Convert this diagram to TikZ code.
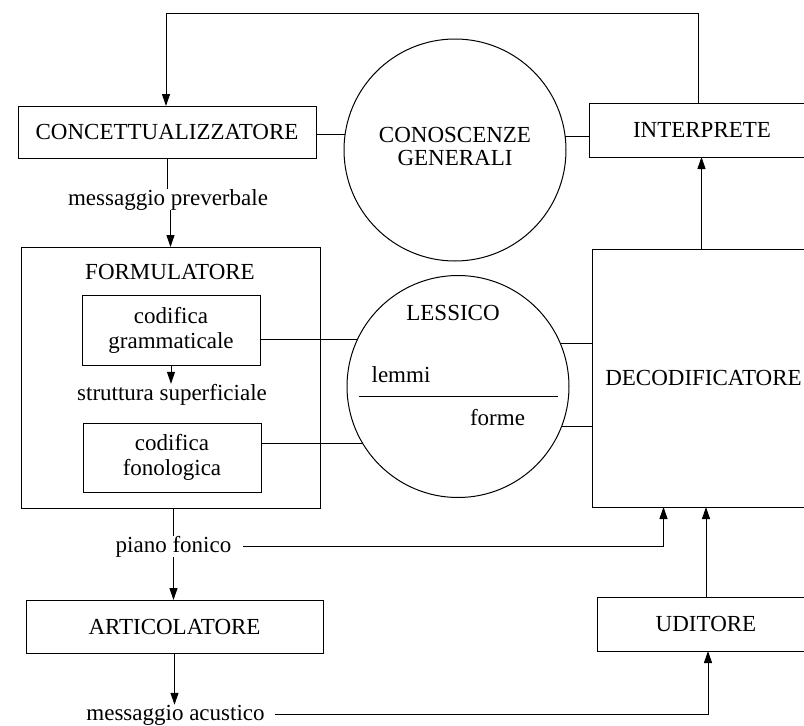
\documentclass[tikz,border=0pt]{standalone}
\usepackage{fontspec}
\setmainfont{Liberation Serif}
\usetikzlibrary{arrows.meta,calc}
\begin{document}
\begin{tikzpicture}[x=1pt,y=-1pt,
  font=\fontsize{23}{25}\selectfont,
  line width=1pt,
  box/.style={draw, inner sep=0pt, outer sep=0pt},
  round/.style={draw, circle, minimum size=222pt, inner sep=0pt, outer sep=0pt},
  lab/.style={inner sep=0pt, outer sep=0pt},
  arr/.style={-{Triangle[length=12pt,width=8pt]}},
]
\clip (0,0) rectangle (804,726);
\fill[white] (0,0) rectangle (804,726);

% nodes
\node[box, minimum width=298pt, minimum height=52pt] (conc) at (167,132) {CONCETTUALIZZATORE};
\node[round] (cg) at (455,150) {};
\node[lab, align=center, font=\fontsize{23}{23}\selectfont] (cgt) at (455,146) {CONOSCENZE\\GENERALI};
\node[box, minimum width=226pt, minimum height=54pt] (interp) at (702,130) {INTERPRETE};
\node[lab, anchor=base] (mpre) at (168,205) {messaggio preverbale};

\node[box, minimum width=299pt, minimum height=261pt] (form) at (170.5,377.5) {};
\node[lab] (formt) at (170,272) {FORMULATORE};
\node[box, minimum width=178pt, minimum height=70pt, align=center] (cgram) at (171,330) {codifica\\grammaticale};
\node[lab, anchor=base] (ss) at (172,400) {struttura superficiale};
\node[box, minimum width=178pt, minimum height=69pt, align=center] (cfon) at (172,457.5) {codifica\\fonologica};

\node[round] (lx) at (458,386.5) {};
\node[lab] (lxt) at (453,313) {LESSICO};
\node[lab, anchor=base] (lem) at (401,382) {lemmi};
\node[lab, anchor=base] (frm) at (497.5,425) {forme};
\draw ($(lx.center)+(-99,9.5)$) -- ($(lx.center)+(100,9.5)$);

\node[box, minimum width=223pt, minimum height=258pt] (decod) at (703.5,378) {DECODIFICATORE};

\node[lab, anchor=base] (pf) at (173.5,552) {piano fonico};
\node[box, minimum width=297pt, minimum height=53pt] (artic) at (174.5,626.5) {ARTICOLATORE};
\node[lab, anchor=base] (ma) at (175.5,720) {messaggio acustico};
\node[box, minimum width=218pt, minimum height=54pt] (udit) at (706,624) {UDITORE};

\coordinate (top) at (0,13);

% connectors
\draw[arr] ([xshift=-4pt]interp.north) -- ([xshift=-4pt]interp.north |- top) -| ([xshift=-1pt]conc.north);
\draw (cg.172.8 -| conc.east) -- (cg.172.8);
\draw (cg.7.2) -- (cg.7.2 -| interp.west);
\draw (conc.south) -- (conc.south |- mpre.north);
\draw[arr] (form.north |- mpre.south) -- (form.north);

\draw[arr] (cgram.south) -- (cgram.south |- ss.north);
\draw (lx.155.8 -| cgram.east) -- (lx.155.8);
\draw (lx.211.2 -| cfon.east) -- (lx.211.2);
\draw (lx.23.6) -- (lx.23.6 -| decod.west);
\draw (lx.-21.4) -- (lx.-21.4 -| decod.west);

\draw[arr] ([xshift=-2pt]decod.north) -- ([xshift=-2pt]decod.north |- interp.south);

\draw (pf.north |- form.south) -- (pf.north);
\draw[arr] (pf.south) -- (pf.south |- artic.north);
\draw[arr] ([xshift=12pt]pf.east) -| ([xshift=-40pt]decod.south);
\draw[arr] (artic.south) -- (artic.south |- ma.north);
\draw[arr] ([xshift=10pt]ma.east) -| ([xshift=2pt]udit.south);
\draw[arr] (udit.north) -- (udit.north |- decod.south);
\end{tikzpicture}
\end{document}
